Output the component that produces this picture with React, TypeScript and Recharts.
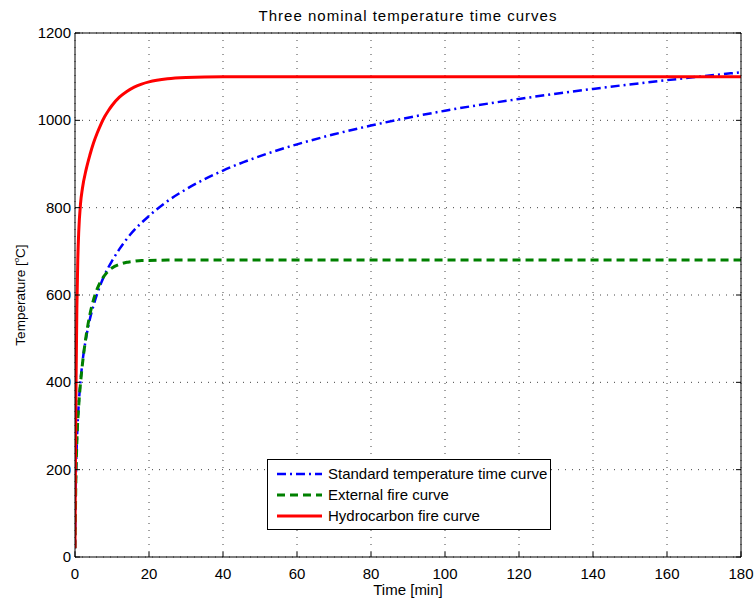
import React from "react";
import { LineChart, Line, XAxis, YAxis, CartesianGrid } from "recharts";

// values (time in min, temperature in °C)
const stdTime = [0, 0.25, 0.5, 1, 1.5, 2, 3, 4, 5, 6, 7, 8, 9, 10, 12, 15, 20, 25, 30, 40, 50, 60, 70, 80, 90, 100, 120, 140, 160, 180];
const stdTemp = [20, 185, 261, 349, 404, 445, 502, 544, 576, 603, 626, 646, 663, 678, 705, 739, 781, 815, 842, 885, 918, 945, 968, 988, 1006, 1022, 1049, 1072, 1092, 1110];

const extTime = [0, 0.25, 0.5, 1, 1.5, 2, 3, 4, 5, 6, 7, 8, 9, 10, 12, 14, 15, 18, 20, 25, 30, 60, 100, 140, 180];
const extTemp = [20, 182, 263, 346, 399, 441, 506, 554, 589, 614, 632, 645, 655, 662, 670, 675, 676, 679, 679, 680, 680, 680, 680, 680, 680];

const hcTime = [0, 0.1, 0.25, 0.5, 0.75, 1, 1.5, 2, 3, 4, 5, 6, 7, 8, 9, 10, 12, 14, 16, 18, 20, 25, 30, 40, 50, 100, 180];
const hcTemp = [20, 187, 373, 568, 679, 743, 810, 844, 887, 920, 948, 971, 991, 1008, 1022, 1034, 1053, 1066, 1076, 1083, 1088, 1095, 1098, 1100, 1100, 1100, 1100];

const xTicks = [0, 20, 40, 60, 80, 100, 120, 140, 160, 180];
const yTicks = [0, 200, 400, 600, 800, 1000, 1200];

const toRows = (t: number[], v: number[]) => t.map((x, i) => ({ t: x, v: v[i] }));

const series = [
  { name: "Standard temperature time curve", color: "#0000ff", dash: "9 4 2 4", width: 2.5, data: toRows(stdTime, stdTemp) },
  { name: "External fire curve", color: "#008000", dash: "8 5", width: 3, data: toRows(extTime, extTemp) },
  { name: "Hydrocarbon fire curve", color: "#ff0000", dash: undefined, width: 3, data: toRows(hcTime, hcTemp) },
];

const FONT = "'Liberation Sans', Arial, Helvetica, sans-serif";

const BottomTick = (p: any) => (
  <g>
    <line x1={p.x} x2={p.x} y1={p.y} y2={p.y - 5} stroke="#000" />
    <text x={p.x} y={p.y + 22} textAnchor="middle" fontSize={15} fontFamily={FONT} fill="#000">
      {p.payload.value}
    </text>
  </g>
);
const LeftTick = (p: any) => (
  <g>
    <line x1={p.x} x2={p.x + 5} y1={p.y} y2={p.y} stroke="#000" />
    <text x={p.x - 4} y={p.y + 5} textAnchor="end" fontSize={15} fontFamily={FONT} fill="#000">
      {p.payload.value}
    </text>
  </g>
);
const TopTick = (p: any) => <line x1={p.x} x2={p.x} y1={p.y} y2={p.y + 5} stroke="#000" />;
const RightTick = (p: any) => <line x1={p.x} x2={p.x - 5} y1={p.y} y2={p.y} stroke="#000" />;

const LegendBox = () => (
  <div
    style={{
      position: "absolute",
      left: 267,
      top: 459,
      width: 282,
      background: "#fff",
      border: "1px solid #000",
      padding: "3px 0",
      fontFamily: FONT,
      fontSize: 15,
    }}
  >
    {series.map((s) => (
      <div key={s.name} style={{ display: "flex", alignItems: "center", height: 21 }}>
        <svg width={60} height={10}>
          <line x1={9} x2={54} y1={5} y2={5} stroke={s.color} strokeWidth={s.width} strokeDasharray={s.dash} />
        </svg>
        <span style={{ color: "#000", whiteSpace: "nowrap" }}>{s.name}</span>
      </div>
    ))}
  </div>
);

export default function App() {
  return (
    <div style={{ position: "absolute", left: 0, top: 0, width: 754, height: 599, background: "#fff" }}>
      <LineChart width={754} height={599} margin={{ top: 32, right: 12, bottom: 12, left: 15 }}>
        <CartesianGrid stroke="#444" strokeDasharray="1 6" horizontalValues={yTicks} verticalValues={xTicks} />
        <XAxis
          dataKey="t"
          type="number"
          domain={[0, 180]}
          ticks={xTicks}
          height={30}
          tickSize={0}
          tickMargin={0}
          tickLine={false}
          tick={BottomTick}
          axisLine={{ stroke: "#000" }}
          allowDataOverflow
        />
        <XAxis
          xAxisId="top"
          orientation="top"
          type="number"
          domain={[0, 180]}
          ticks={xTicks}
          height={1}
          tickSize={0}
          tickMargin={0}
          tickLine={false}
          tick={TopTick}
          axisLine={{ stroke: "#000" }}
          allowDataOverflow
        />
        <YAxis
          type="number"
          domain={[0, 1200]}
          ticks={yTicks}
          width={60}
          tickSize={0}
          tickMargin={0}
          tickLine={false}
          tick={LeftTick}
          axisLine={{ stroke: "#000" }}
          allowDataOverflow
        />
        <YAxis
          yAxisId="right"
          orientation="right"
          type="number"
          domain={[0, 1200]}
          ticks={yTicks}
          width={1}
          tickSize={0}
          tickMargin={0}
          tickLine={false}
          tick={RightTick}
          axisLine={{ stroke: "#000" }}
          allowDataOverflow
        />
        {series.map((s) => (
          <Line
            key={s.name}
            data={s.data}
            dataKey="v"
            name={s.name}
            type="monotone"
            stroke={s.color}
            strokeWidth={s.width}
            strokeDasharray={s.dash}
            dot={false}
            activeDot={false}
            isAnimationActive={false}
          />
        ))}
      </LineChart>
      <LegendBox />
      <div
        style={{
          position: "absolute",
          left: 75,
          width: 666,
          top: 7,
          textAlign: "center",
          fontFamily: FONT,
          fontSize: 15,
          letterSpacing: 1,
        }}
      >
        Three nominal temperature time curves
      </div>
      <div style={{ position: "absolute", left: 75, width: 666, top: 581, textAlign: "center", fontFamily: FONT, fontSize: 15 }}>
        Time [min]
      </div>
      <div
        style={{
          position: "absolute",
          left: 20,
          top: 295,
          transform: "translate(-50%, -50%) rotate(-90deg)",
          whiteSpace: "nowrap",
          fontFamily: FONT,
          fontSize: 13.5,
        }}
      >
        Temperature [<sup style={{ fontSize: 8 }}>o</sup>C]
      </div>
    </div>
  );
}
